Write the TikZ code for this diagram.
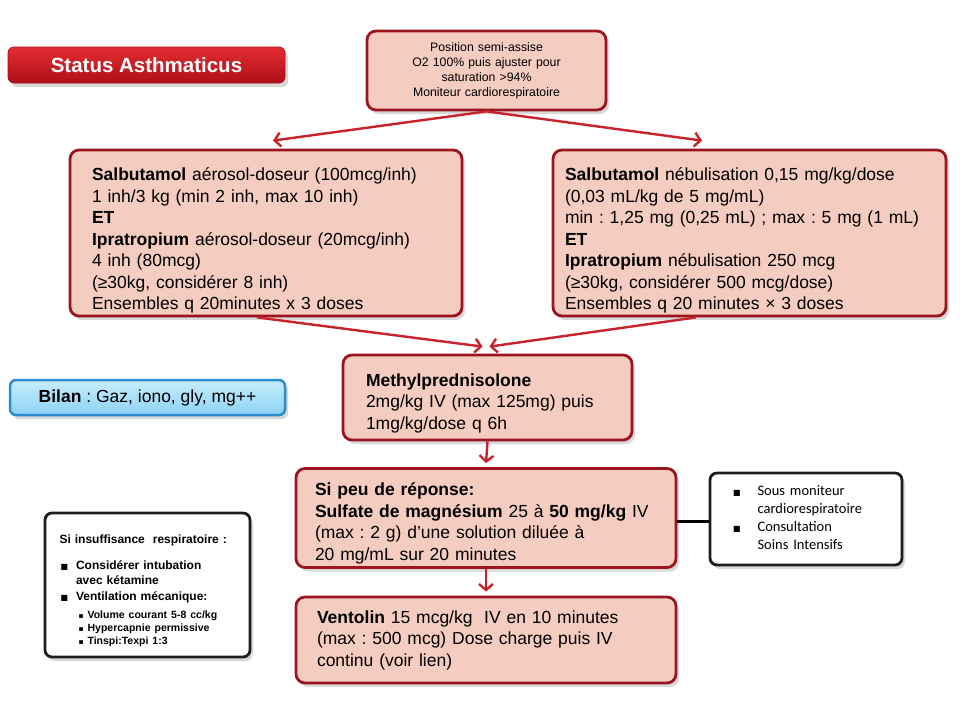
\documentclass[tikz,border=0pt]{standalone}
\usepackage{fontspec}
\setmainfont{Liberation Sans}
\newfontfamily\dejavu{DejaVu Sans}
\newfontfamily\carlito{Carlito}
\usetikzlibrary{arrows.meta,shadows}
\frenchspacing
\definecolor{boxfill}{RGB}{244,204,192}
\definecolor{boxborder}{RGB}{155,20,30}
\definecolor{arrowred}{RGB}{200,35,45}
\definecolor{statustop}{RGB}{228,45,50}
\definecolor{statusbot}{RGB}{175,15,25}
\definecolor{bluetop}{RGB}{200,238,252}
\definecolor{bluebot}{RGB}{140,210,245}
\definecolor{blueborder}{RGB}{40,140,205}
\definecolor{darkgray}{RGB}{30,30,30}
\newcommand{\bul}{{\dejavu\fontsize{8}{8}\selectfont ■}}
\newcommand{\sbul}{{\dejavu\fontsize{7.5}{7.5}\selectfont ▪}}
\newcommand{\topgap}[1]{\par\vspace*{#1}}
\tikzset{
  pinkbox/.style={draw=boxborder, line width=2.8pt, fill=boxfill, rounded corners=9pt,
    drop shadow={shadow xshift=3pt, shadow yshift=-4pt, opacity=0.3},
    inner ysep=0pt, align=left, font=\fontsize{17.5}{21.5}\selectfont},
  whitebox/.style={draw=darkgray, line width=2.8pt, fill=white, rounded corners=7pt,
    drop shadow={shadow xshift=3pt, shadow yshift=-4pt, opacity=0.3},
    inner ysep=0pt, align=left},
  redarrow/.style={draw=arrowred, line width=2.4pt,
    -{Straight Barb[length=6pt,width=14pt,line width=2.4pt]}},
  blackline/.style={draw=black, line width=3pt}
}
\begin{document}
\begin{tikzpicture}[x=1pt,y=-1pt]
\useasboundingbox[fill=white] (0,0) rectangle (960,720);

% title bar
\node[rounded corners=6pt, top color=statustop, bottom color=statusbot, draw=statusbot, line width=0.8pt,
  drop shadow={shadow xshift=3pt, shadow yshift=-4pt, opacity=0.3},
  minimum width=277, minimum height=36, text=white, font=\bfseries\fontsize{20.5}{22}\selectfont]
  (status) at (146.5,65) {Status Asthmaticus};

% top box
\node[pinkbox, minimum width=239, minimum height=79, text width=229, inner xsep=5, align=center,
  font=\fontsize{12.3}{15}\selectfont] (top) at (486.5,70.5)
  {Position semi-assise\\O2 100\% puis ajuster pour\\saturation >94\%\\Moniteur cardiorespiratoire};

% left box
\node[pinkbox, minimum width=392, minimum height=166, text width=348, inner xsep=22] (left) at (266,233)
  {\topgap{7pt}\textbf{Salbutamol} aérosol-doseur (100mcg/inh)\\
   1 inh/3 kg (min 2 inh, max 10 inh)\\
   \textbf{ET}\\
   \textbf{Ipratropium} aérosol-doseur (20mcg/inh)\\
   4 inh (80mcg)\\
   (≥30kg, considérer 8 inh)\\
   Ensembles q 20minutes x 3 doses};

% right box
\node[pinkbox, minimum width=393, minimum height=166, text width=369, inner xsep=12] (right) at (749.5,233)
  {\topgap{7pt}\textbf{Salbutamol} nébulisation 0,15 mg/kg/dose\\
   (0,03 mL/kg de 5 mg/mL)\\
   min : 1,25 mg (0,25 mL) ; max : 5 mg (1 mL)\\
   \textbf{ET}\\
   \textbf{Ipratropium} nébulisation 250 mcg\\
   (≥30kg, considérer 500 mcg/dose)\\
   Ensembles q 20 minutes × 3 doses};

% bilan
\node[rounded corners=6pt, top color=bluetop, bottom color=bluebot, draw=blueborder, line width=2.5pt,
  drop shadow={shadow xshift=3pt, shadow yshift=-4pt, opacity=0.3},
  minimum width=275, minimum height=35, font=\fontsize{17.5}{19}\selectfont]
  (bilan) at (147.5,397.5) {\textbf{Bilan} : Gaz, iono, gly, mg++};

% methylprednisolone
\node[pinkbox, minimum width=289, minimum height=85, text width=243, inner xsep=23] (methyl) at (487.5,397.5)
  {\topgap{3pt}\textbf{Methylprednisolone}\\
   2mg/kg IV (max 125mg) puis\\
   1mg/kg/dose q 6h};

% magnesium
\node[pinkbox, minimum width=380, minimum height=99, text width=342, inner xsep=19] (si) at (486,518)
  {\topgap{2pt}\textbf{Si peu de réponse:}\\
   \textbf{Sulfate de magnésium} 25 à \textbf{50 mg/kg} IV\\
   (max : 2 g) d’une solution diluée à\\
   20 mg/mL sur 20 minutes};

% ventolin
\node[pinkbox, minimum width=380, minimum height=86, text width=338, inner xsep=21] (vent) at (486,640)
  {\textbf{Ventolin} 15 mcg/kg\ \ IV en 10 minutes\\
   (max : 500 mcg) Dose charge puis IV\\
   continu (voir lien)};

% monitor box
\node[whitebox, minimum width=192, minimum height=92, text width=166, inner xsep=13,
  font=\carlito\fontsize{14.5}{18}\selectfont] (mon) at (806,519)
  {\hspace*{10pt}\begin{tabular}{@{}l@{\hspace{17pt}}l@{}}
   \bul & Sous moniteur\\
        & cardiorespiratoire\\
   \bul & Consultation\\
        & Soins Intensifs
   \end{tabular}};

% respiratory box
\node[whitebox, minimum width=205, minimum height=144, text width=186, inner xsep=9.5,
  font=\bfseries\fontsize{12}{14}\selectfont] (resp) at (147.5,585)
  {\topgap{6pt}\hspace*{5pt}Si insuffisance\ \ respiratoire :\par\vspace{12pt}
   {\fontsize{12}{15.5}\selectfont
   \hspace*{6pt}\begin{tabular}{@{}l@{\hspace{8pt}}l@{}}
   \bul & Considérer\ intubation\\
        & avec kétamine\\
   \bul & Ventilation\ mécanique:
   \end{tabular}\par}\vspace{5pt}
   {\fontsize{10.5}{13}\selectfont
   \hspace*{24pt}\sbul\hspace{4pt}Volume courant 5-8 cc/kg\par
   \hspace*{24pt}\sbul\hspace{4pt}Hypercapnie permissive\par
   \hspace*{24pt}\sbul\hspace{4pt}Tinspi:Texpi 1:3\par}};

% connectors
\draw[redarrow] (top.south) -- ([xshift=7pt,yshift=8pt]left.north);
\draw[redarrow] (top.south) -- ([xshift=-47.5pt,yshift=8pt]right.north);
\draw[redarrow] ([xshift=-9pt]left.south) -- ([xshift=-5pt,yshift=7pt]methyl.north);
\draw[redarrow] ([xshift=-53.5pt]right.south) -- ([xshift=2pt,yshift=7pt]methyl.north);
\draw[redarrow] (methyl.south) -- ([yshift=4pt]si.north);
\draw[redarrow] (si.south) -- ([yshift=4pt]vent.north);
\draw[blackline] ([yshift=-3pt]si.east) -- ([yshift=-3pt]si.east -| mon.west);
\end{tikzpicture}
\end{document}
